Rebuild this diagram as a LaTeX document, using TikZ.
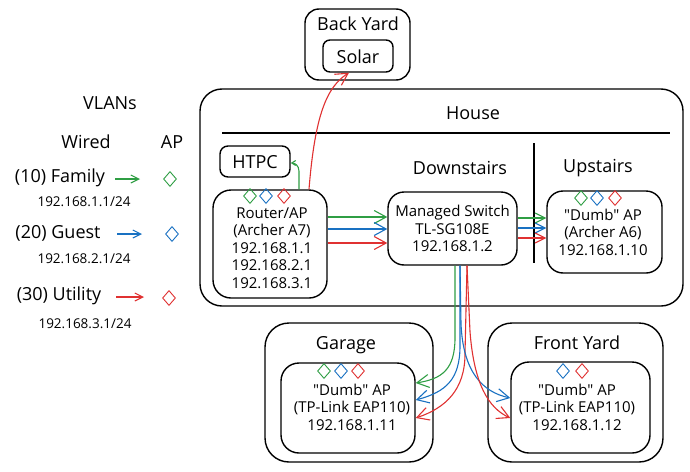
\documentclass[tikz,border=0pt]{standalone}
\usepackage{fontspec}
\setmainfont{Open Sans}[Ligatures=TeXOff]
\usetikzlibrary{arrows.meta,shapes.geometric}
\definecolor{exg}{HTML}{2F9E44}
\definecolor{exb}{HTML}{1971C2}
\definecolor{exr}{HTML}{E03131}
\begin{document}
\begin{tikzpicture}[x=1pt,y=-1pt,
  box/.style={draw,line width=1.4pt,rounded corners=#1,inner sep=0pt},
  box/.default=16pt,
  hd/.style={font=\fontsize{18}{21}\selectfont,inner sep=0pt},
  bt/.style={font=\fontsize{15}{17.5}\selectfont,align=center,inner sep=0pt},
  ipt/.style={font=\fontsize{13.5}{16}\selectfont,inner sep=0pt},
  dia/.style={diamond,draw=#1,line width=0.9pt,inner sep=0pt,minimum width=13pt,minimum height=15pt},
  con/.style={line width=1.1pt},
  bigtip/.style={-{Straight Barb[length=12pt,width=13pt]}},
  midtip/.style={-{Straight Barb[length=10pt,width=10pt]}},
  smalltip/.style={-{Straight Barb[length=8pt,width=8pt]}},
  tinytip/.style={-{Straight Barb[length=4pt,width=5pt]}}
]
\fill[white] (0,0) rectangle (690,471);
\useasboundingbox (0,0) rectangle (690,471);

% ---------- Legend ----------
\node[hd] (vlans) at (110,103) {VLANs};
\node[hd] (wired) at (86,142) {Wired};
\node[hd] (aphd) at (172,142) {AP};
\node[hd] (fam) at (60,178) {(10) Family};
\node[ipt] (famip) at (84,202) {192.168.1.1/24};
\node[hd] (gst) at (58,233) {(20) Guest};
\node[ipt] (gstip) at (84,259) {192.168.2.1/24};
\node[hd] (utl) at (59,296) {(30) Utility};
\node[ipt] (utlip) at (85,324) {192.168.3.1/24};
\coordinate (lgA) at (115,179); \coordinate (lgB) at (140,179);
\coordinate (lbA) at (117,234); \coordinate (lbB) at (142,234);
\coordinate (lrA) at (116,297); \coordinate (lrB) at (144,297);
\draw[con,exg,smalltip] (lgA) -- (lgB);
\draw[con,exb,smalltip] (lbA) -- (lbB);
\draw[con,exr,smalltip] (lrA) -- (lrB);
\node[dia=exg] (ldg) at (170,179) {};
\node[dia=exb] (ldb) at (172,234) {};
\node[dia=exr] (ldr) at (169,298) {};

% ---------- Back Yard ----------
\node[box=14pt,minimum width=105pt,minimum height=71pt] (backyard) at (357.5,44.5) {};
\node[hd] (backyardlbl) at (358,24) {Back Yard};
\node[box=7pt,minimum width=70pt,minimum height=32pt] (solar) at (358,56) {};
\node[hd] (solarlbl) at (358,57) {Solar};

% ---------- House ----------
\node[box=22pt,minimum width=483pt,minimum height=217pt] (house) at (441.5,197.5) {};
\node[hd] (houselbl) at (473,113) {House};
\coordinate (sepL) at (222,133); \coordinate (sepR) at (670,133);
\draw[line width=2.4pt] (sepL) -- (sepR);
\coordinate (vT) at (534,143); \coordinate (vB) at (534,263);
\draw[line width=1.8pt] (vT) -- (vB);
\node[hd] (down) at (460,168) {Downstairs};
\node[hd] (up) at (598,168) {Upstairs};

\node[box=8pt,minimum width=70pt,minimum height=31pt] (htpc) at (255,161.5) {};
\node[hd] (htpclbl) at (255,162) {HTPC};

\node[box=18pt,minimum width=114pt,minimum height=108pt] (router) at (270,244) {};
\node[bt] (routertxt) at (272,248) {Router/AP\\(Archer A7)\\192.168.1.1\\192.168.2.1\\192.168.3.1};
\node[dia=exg] (rdg) at (250,196) {};
\node[dia=exb] (rdb) at (266,196) {};
\node[dia=exr] (rdr) at (284,196) {};

\node[box=16pt,minimum width=129pt,minimum height=73pt,bt] (switch) at (452.5,228.5) {Managed Switch\\TL-SG108E\\192.168.1.2};

\node[box=16pt,minimum width=115pt,minimum height=82pt] (upap) at (604.5,232) {};
\node[bt] (upaptxt) at (603,232) {"Dumb" AP\\(Archer A6)\\192.168.1.10};
\node[dia=exg] (udg) at (581,198) {};
\node[dia=exb] (udb) at (597,198) {};
\node[dia=exr] (udr) at (615,198) {};

% ---------- Garage ----------
\node[box=24pt,minimum width=168pt,minimum height=139pt] (garage) at (349,392.5) {};
\node[hd] (garagelbl) at (346,345) {Garage};
\node[box=18pt,minimum width=134pt,minimum height=90pt] (gap) at (348,408) {};
\node[bt] (gaptxt) at (352,407) {"Dumb" AP\\(TP-Link EAP110)\\192.168.1.11};
\node[dia=exg] (gdg) at (324,371) {};
\node[dia=exb] (gdb) at (341,371) {};
\node[dia=exr] (gdr) at (358,371) {};

% ---------- Front Yard ----------
\node[box=24pt,minimum width=175pt,minimum height=139pt] (front) at (575.5,392.5) {};
\node[hd] (frontlbl) at (577,343) {Front Yard};
\node[box=18pt,minimum width=139pt,minimum height=91pt] (fap) at (580.5,407.5) {};
\node[bt] (faptxt) at (577,407) {"Dumb" AP\\(TP-Link EAP110)\\192.168.1.12};
\node[dia=exb] (fdb) at (563,371) {};
\node[dia=exr] (fdr) at (582,371) {};

% ---------- Connectors ----------
% router -> HTPC
\draw[con,exg,tinytip] ([xshift=29pt]router.north) -- ++(0,-18) .. controls +(0,-6) and +(4,0) .. ([yshift=-1.5pt]htpc.east);
% router -> Solar
\draw[con,exr,bigtip] ([xshift=39pt]router.north) .. controls +(6,-75) and +(-22,14) .. ([xshift=-9pt]solar.south);
% router -> switch
\draw[con,exg,bigtip] ([yshift=27pt]router.east) -- ([yshift=11.5pt]switch.west);
\draw[con,exb,bigtip] ([yshift=15pt]router.east) -- ([yshift=-0.5pt]switch.west);
\draw[con,exr,bigtip] ([yshift=1pt]router.east) -- ([yshift=-14.5pt]switch.west);
% switch -> upstairs AP
\draw[con,exg,midtip] ([yshift=10.5pt]switch.east) -- ([yshift=14pt]upap.west);
\draw[con,exb,midtip] ([yshift=0.5pt]switch.east) -- ([yshift=4pt]upap.west);
\draw[con,exr,midtip] ([yshift=-9.5pt]switch.east) -- ([yshift=-6pt]upap.west);
% switch -> garage AP
\draw[con,exg,bigtip] ([xshift=2.5pt]switch.south) -- ++(0,72) .. controls +(0,32) and +(26,-4) .. ([yshift=25pt]gap.east);
\draw[con,exb,bigtip] ([xshift=7.5pt]switch.south) -- ++(0,80) .. controls +(0,34) and +(30,-8) .. ([yshift=8pt]gap.east);
\draw[con,exr,bigtip] ([xshift=14.5pt]switch.south) -- ++(-2,88) .. controls +(0,36) and +(30,-10) .. ([yshift=-10pt]gap.east);
% switch -> front yard AP
\draw[con,exb,bigtip] ([xshift=7.5pt]switch.south) -- ++(1,58) .. controls +(2,48) and +(-28,-6) .. ([yshift=9.5pt]fap.west);
\draw[con,exr,bigtip] ([xshift=14.5pt]switch.south) -- ++(3,66) .. controls +(4,52) and +(-22,-10) .. ([yshift=-10.5pt]fap.west);
\end{tikzpicture}
\end{document}
